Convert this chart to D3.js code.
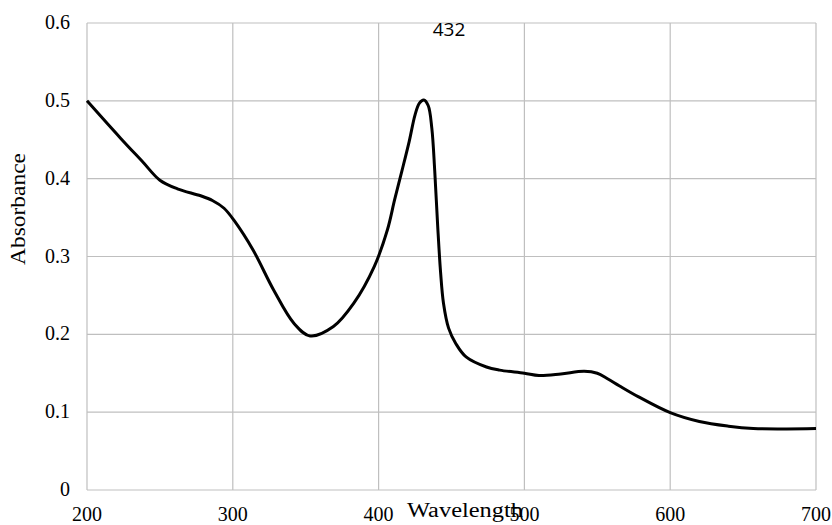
<!DOCTYPE html>
<html>
<head>
<meta charset="utf-8">
<script src="https://cdn.jsdelivr.net/npm/d3@7"></script>
<style>
  body { margin: 0; background: #fff; }
</style>
</head>
<body>
<svg width="832" height="525"></svg>
<script>
// spectrum
const wavelengths = [200, 223, 238, 250, 262, 278, 286, 294, 301, 314, 328, 342, 353, 369, 383, 397, 406, 411, 416, 421, 425, 428, 431, 434, 436.5, 438.5, 440.5, 442.5, 444.5, 448, 453, 460, 474, 483, 500, 510, 525, 541, 550, 557, 565, 578, 600, 620, 640, 657, 680, 700];
const absorbance  = [0.5, 0.452, 0.422, 0.398, 0.387, 0.378, 0.372, 0.362, 0.346, 0.308, 0.257, 0.214, 0.198, 0.21, 0.24, 0.287, 0.334, 0.373, 0.41, 0.448, 0.482, 0.497, 0.501, 0.494, 0.465, 0.41, 0.34, 0.28, 0.24, 0.208, 0.188, 0.171, 0.158, 0.154, 0.150, 0.147, 0.149, 0.1525, 0.150, 0.143, 0.134, 0.12, 0.0994, 0.088, 0.082, 0.079, 0.0785, 0.079];
const xTicks = [200, 300, 400, 500, 600, 700];
const yTicks = [0, 0.1, 0.2, 0.3, 0.4, 0.5, 0.6];
const peakLabel = '432';

const svg = d3.select('svg');
const plotL = 87, plotR = 816, plotT = 23, plotB = 490;

const x = d3.scaleLinear().domain([200, 700]).range([plotL, plotR]);
const y = d3.scaleLinear().domain([0, 0.6]).range([plotB, plotT]);

// grid
svg.selectAll('.vgrid').data(xTicks).enter().append('line')
  .attr('x1', d => x(d)).attr('x2', d => x(d))
  .attr('y1', plotT).attr('y2', plotB)
  .attr('stroke', '#bfbfbf').attr('stroke-width', 1.2);
svg.selectAll('.hgrid').data(yTicks).enter().append('line')
  .attr('x1', plotL).attr('x2', plotR)
  .attr('y1', d => y(d)).attr('y2', d => y(d))
  .attr('stroke', '#bfbfbf').attr('stroke-width', 1.2);

// tick labels
svg.selectAll('.xt').data(xTicks).enter().append('text')
  .attr('x', d => x(d)).attr('y', 521)
  .attr('text-anchor', 'middle')
  .attr('font-family', 'Liberation Serif, serif').attr('font-size', 20)
  .text(d => d);
svg.selectAll('.yt').data(yTicks).enter().append('text')
  .attr('x', 70).attr('y', d => y(d) + 6)
  .attr('text-anchor', 'end')
  .attr('font-family', 'Liberation Serif, serif').attr('font-size', 20)
  .text(d => d);

// axis titles
svg.append('text')
  .attr('x', 465).attr('y', 517)
  .attr('text-anchor', 'middle')
  .attr('font-family', 'Liberation Serif, serif').attr('font-size', 20)
  .attr('textLength', 116).attr('lengthAdjust', 'spacingAndGlyphs')
  .text('Wavelength');
svg.append('text')
  .attr('transform', 'translate(25,209) rotate(-90)')
  .attr('text-anchor', 'middle')
  .attr('font-family', 'Liberation Serif, serif').attr('font-size', 20)
  .attr('textLength', 112).attr('lengthAdjust', 'spacingAndGlyphs')
  .text('Absorbance');

// spectrum line
const pts = wavelengths.map((w, i) => [w, absorbance[i]]);
const line = d3.line()
  .x(d => x(d[0]))
  .y(d => y(d[1]))
  .curve(d3.curveCatmullRom.alpha(0.5));
svg.append('path')
  .attr('d', line(pts))
  .attr('fill', 'none')
  .attr('stroke', '#000')
  .attr('stroke-width', 3);

// peak label
svg.append('text')
  .attr('x', 449).attr('y', 36)
  .attr('text-anchor', 'middle')
  .attr('font-family', 'Open Sans, sans-serif').attr('font-size', 19)
  .text(peakLabel);
</script>
</body>
</html>
